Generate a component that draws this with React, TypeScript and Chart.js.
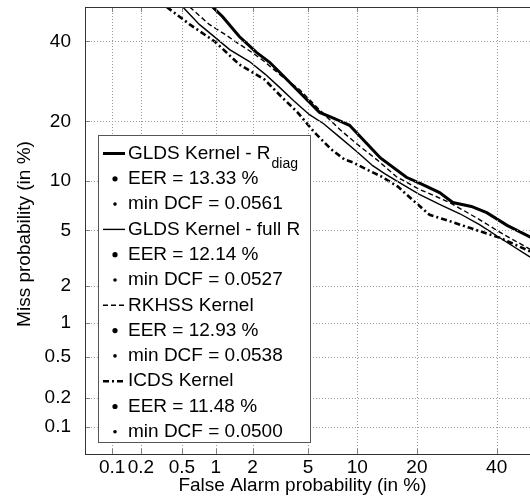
import React, { useEffect, useRef } from "react";
import { Chart, registerables } from "chart.js";

Chart.register(...registerables);

// ---- axis ticks (in %) ----
const xTicksPct = [0.1, 0.2, 0.5, 1, 2, 5, 10, 20, 40];
const yTicksPct = [0.1, 0.2, 0.5, 1, 2, 5, 10, 20, 40];
const axisMinPct = 0.05;
const axisMaxPct = 50;

// ---- DET curves: false alarm (%) / miss (%) ----
const gldsDiagFA = [0.94, 1.14, 1.57, 2.14, 2.69, 3.4, 4.38, 5.94, 7.3, 9.03, 12.1, 13.33, 17.9, 21.0, 25.0, 28.2, 33.0, 37.2, 43.0, 50];
const gldsDiagMiss = [50, 47.2, 41.4, 36.9, 34.2, 30.5, 26.5, 21.9, 20.6, 19.2, 14.7, 13.33, 10.5, 9.6, 8.6, 7.5, 7.1, 6.5, 5.4, 4.5];

const gldsFullFA = [0.51, 0.72, 1.0, 1.31, 1.89, 2.5, 3.18, 4.0, 5.11, 6.3, 7.9, 10.0, 12.14, 14.0, 16.6, 20.5, 25.0, 30.0, 35.2, 42.0, 50];
const gldsFullMiss = [50, 44.9, 41.0, 37.7, 34.4, 31.0, 27.7, 24.5, 21.4, 19.5, 16.9, 14.3, 12.14, 11.0, 9.8, 8.4, 7.3, 6.4, 5.46, 4.3, 3.25];

const rkhssFA = [0.59, 0.88, 1.2, 1.57, 2.0, 2.46, 3.3, 4.38, 5.8, 7.9, 10.0, 12.93, 16.0, 20.6, 24.0, 27.4, 31.0, 35.2, 42.0, 50];
const rkhssMiss = [50, 44.9, 42.0, 39.2, 36.8, 34.4, 30.5, 27.2, 22.8, 18.4, 15.6, 12.93, 10.6, 8.95, 8.2, 7.5, 6.7, 5.88, 4.7, 3.7];

const icdsFA = [0.36, 0.59, 0.98, 1.57, 2.0, 2.46, 3.2, 4.25, 5.5, 7.05, 8.43, 9.5, 11.48, 13.5, 16.3, 19.5, 22.7, 27.0, 32.5, 40.8, 50];
const icdsMiss = [50, 44.9, 40.0, 33.6, 31.5, 29.7, 25.8, 21.9, 17.8, 14.7, 13.1, 12.6, 11.48, 10.6, 9.3, 7.6, 6.3, 5.8, 5.2, 4.48, 3.58];

// ---- legend text ----
const seriesLabels = ["GLDS Kernel - R", "GLDS Kernel - full R", "RKHSS Kernel", "ICDS Kernel"];
const seriesSubscripts = ["diag", "", "", ""];
const eerValues = ["13.33", "12.14", "12.93", "11.48"];
const minDcfValues = ["0.0561", "0.0527", "0.0538", "0.0500"];

const xTitle = "False Alarm probability (in %)";
const yTitle = "Miss probability (in %)";

const FONT = "'Liberation Sans', Arial, Helvetica, sans-serif";
const lineWidths = [3, 1.4, 1.4, 2.6];
const lineDashes: number[][] = [[], [], [5, 3], [6, 3, 2, 3]];

// inverse standard normal CDF (Acklam)
function probit(p: number): number {
  const a = [-3.969683028665376e1, 2.209460984245205e2, -2.759285104469687e2, 1.38357751867269e2, -3.066479806614716e1, 2.506628277459239];
  const b = [-5.447609879822406e1, 1.615858368580409e2, -1.556989798598866e2, 6.680131188771972e1, -1.328068155288572e1];
  const c = [-7.784894002430293e-3, -3.223964580411365e-1, -2.400758277161838, -2.549732539343734, 4.374664141464968, 2.938163982698783];
  const d = [7.784695709041462e-3, 3.224671290700398e-1, 2.445134137142996, 3.754408661907416];
  const pl = 0.02425;
  const ph = 1 - pl;
  if (p < pl) {
    const q = Math.sqrt(-2 * Math.log(p));
    return (((((c[0] * q + c[1]) * q + c[2]) * q + c[3]) * q + c[4]) * q + c[5]) / ((((d[0] * q + d[1]) * q + d[2]) * q + d[3]) * q + 1);
  }
  if (p <= ph) {
    const q = p - 0.5;
    const r = q * q;
    return ((((((a[0] * r + a[1]) * r + a[2]) * r + a[3]) * r + a[4]) * r + a[5]) * q) / (((((b[0] * r + b[1]) * r + b[2]) * r + b[3]) * r + b[4]) * r + 1);
  }
  const q = Math.sqrt(-2 * Math.log(1 - p));
  return -(((((c[0] * q + c[1]) * q + c[2]) * q + c[3]) * q + c[4]) * q + c[5]) / ((((d[0] * q + d[1]) * q + d[2]) * q + d[3]) * q + 1);
}

const AXIS_MIN = probit(axisMinPct / 100);
const AXIS_MAX = probit(axisMaxPct / 100);

function toPoints(fa: number[], miss: number[]) {
  return fa.map((f, i) => ({ x: probit(f / 100), y: probit(miss[i] / 100) }));
}

const decorPlugin = {
  id: "detDecor",
  afterDraw(chart: any) {
    const ctx = chart.ctx as CanvasRenderingContext2D;
    const area = chart.chartArea;
    const left = Math.round(area.left);
    const right = Math.round(area.right);
    const top = Math.round(area.top);
    const bottom = Math.round(area.bottom);
    const span = AXIS_MAX - AXIS_MIN;
    const xPix: number[] = [];
    for (let i = 0; i < xTicksPct.length; i++) {
      const f = (probit(xTicksPct[i] / 100) - AXIS_MIN) / span;
      xPix.push(Math.round(left + f * (right - left)));
    }
    const yPix: number[] = [];
    for (let i = 0; i < yTicksPct.length; i++) {
      const f = (probit(yTicksPct[i] / 100) - AXIS_MIN) / span;
      yPix.push(Math.round(bottom - f * (bottom - top)));
    }

    ctx.save();
    ctx.globalAlpha = 1;
    ctx.globalCompositeOperation = "source-over";
    ctx.setLineDash([]);

    // dotted grid, drawn as single pixels
    ctx.fillStyle = "#9a9a9a";
    for (let i = 0; i < xPix.length; i++) {
      for (let yy = top; yy <= bottom; yy += 3) ctx.fillRect(xPix[i], yy, 1, 1);
    }
    for (let i = 0; i < yPix.length; i++) {
      for (let xx = left; xx <= right; xx += 3) ctx.fillRect(xx, yPix[i], 1, 1);
    }

    // inward tick marks
    ctx.fillStyle = "#808080";
    const tl = 5;
    for (let i = 0; i < xPix.length; i++) {
      ctx.fillRect(xPix[i], bottom - tl, 1, tl);
      ctx.fillRect(xPix[i], top, 1, tl);
    }
    for (let i = 0; i < yPix.length; i++) {
      ctx.fillRect(left, yPix[i], tl, 1);
    }

    // axes frame
    ctx.fillStyle = "#333";
    ctx.fillRect(left, top, right - left + 1, 1);
    ctx.fillRect(left, top, 1, bottom - top + 1);
    ctx.fillRect(left, bottom, right - left + 1, 1);

    // legend box
    const lx = 98.5, ly = 135.5, lw = 212, lh = 307;
    ctx.fillStyle = "#fff";
    ctx.fillRect(lx, ly, lw, lh);
    ctx.strokeStyle = "#555";
    ctx.lineWidth = 1;
    ctx.strokeRect(lx, ly, lw, lh);

    const rowY0 = 153.5;
    const rowStep = 25.3;
    ctx.fillStyle = "#000";
    ctx.textBaseline = "middle";
    ctx.textAlign = "left";
    for (let i = 0; i < seriesLabels.length; i++) {
      const yLine = rowY0 + rowStep * (i * 3);
      const yEer = rowY0 + rowStep * (i * 3 + 1);
      const yDcf = rowY0 + rowStep * (i * 3 + 2);
      ctx.strokeStyle = "#000";
      ctx.lineWidth = lineWidths[i];
      ctx.setLineDash(lineDashes[i]);
      ctx.beginPath();
      ctx.moveTo(103, yLine);
      ctx.lineTo(125, yLine);
      ctx.stroke();
      ctx.setLineDash([]);
      ctx.font = `19px ${FONT}`;
      ctx.fillText(seriesLabels[i], 128, yLine);
      if (seriesSubscripts[i]) {
        const w = ctx.measureText(seriesLabels[i]).width;
        ctx.font = `14px ${FONT}`;
        ctx.fillText(seriesSubscripts[i], 128 + w + 1, yLine + 11);
        ctx.font = `19px ${FONT}`;
      }
      ctx.beginPath();
      ctx.arc(115, yEer, 2.6, 0, Math.PI * 2);
      ctx.fill();
      ctx.fillText(`EER = ${eerValues[i]} %`, 128, yEer);
      ctx.beginPath();
      ctx.arc(115, yDcf, 1.8, 0, Math.PI * 2);
      ctx.fill();
      ctx.fillText(`min DCF = ${minDcfValues[i]}`, 128, yDcf);
    }

    // axis titles
    ctx.font = `19px ${FONT}`;
    ctx.textAlign = "center";
    ctx.textBaseline = "alphabetic";
    ctx.fillText(xTitle, 302.5, 491);
    ctx.translate(30, 234);
    ctx.rotate(-Math.PI / 2);
    ctx.fillText(yTitle, 0, 0);
    ctx.restore();
  },
};

export default function App() {
  const canvasRef = useRef<HTMLCanvasElement | null>(null);

  useEffect(() => {
    const canvas = canvasRef.current;
    if (!canvas) return;
    const mk = (fa: number[], miss: number[], i: number) => ({
      label: seriesLabels[i],
      data: toPoints(fa, miss),
      borderColor: "#000",
      backgroundColor: "#000",
      borderWidth: lineWidths[i],
      borderDash: lineDashes[i],
      pointRadius: 0,
      tension: 0,
      fill: false,
      showLine: true,
    });
    const chart = new Chart(canvas, {
      type: "line",
      data: {
        datasets: [
          mk(icdsFA, icdsMiss, 3),
          mk(rkhssFA, rkhssMiss, 2),
          mk(gldsFullFA, gldsFullMiss, 1),
          mk(gldsDiagFA, gldsDiagMiss, 0),
        ],
      },
      options: {
        animation: false,
        responsive: false,
        events: [],
        layout: { padding: { top: 7, right: 3, left: 0, bottom: 0 } },
        plugins: { legend: { display: false }, tooltip: { enabled: false } },
        scales: {
          x: {
            type: "linear",
            min: AXIS_MIN,
            max: AXIS_MAX,
            grid: { display: false, drawTicks: false },
            border: { display: false },
            afterBuildTicks: (scale: any) => {
              scale.ticks = xTicksPct.map((v) => ({ value: probit(v / 100) }));
            },
            afterFit: (scale: any) => {
              scale.height = 45;
              scale.paddingLeft = 0;
              scale.paddingRight = 0;
            },
            ticks: {
              autoSkip: false,
              maxRotation: 0,
              minRotation: 0,
              padding: 2,
              color: "#000",
              font: { family: FONT, size: 19 },
              callback: (_v: any, idx: number) => String(xTicksPct[idx]),
            },
          },
          y: {
            type: "linear",
            min: AXIS_MIN,
            max: AXIS_MAX,
            grid: { display: false, drawTicks: false },
            border: { display: false },
            afterBuildTicks: (scale: any) => {
              scale.ticks = yTicksPct.map((v) => ({ value: probit(v / 100) }));
            },
            afterFit: (scale: any) => {
              scale.width = 85;
              scale.paddingTop = 0;
              scale.paddingBottom = 0;
            },
            ticks: {
              autoSkip: false,
              padding: 14,
              color: "#000",
              font: { family: FONT, size: 19 },
              callback: (_v: any, idx: number) => String(yTicksPct[idx]),
            },
          },
        },
      },
      plugins: [decorPlugin],
    } as any);
    return () => chart.destroy();
  }, []);

  return (
    <div
      style={{
        position: "fixed",
        left: 0,
        top: 0,
        width: 530,
        height: 499,
        overflow: "hidden",
        background: "#fff",
      }}
    >
      <canvas ref={canvasRef} width={534} height={499} style={{ display: "block", width: 534, height: 499 }} />
    </div>
  );
}
